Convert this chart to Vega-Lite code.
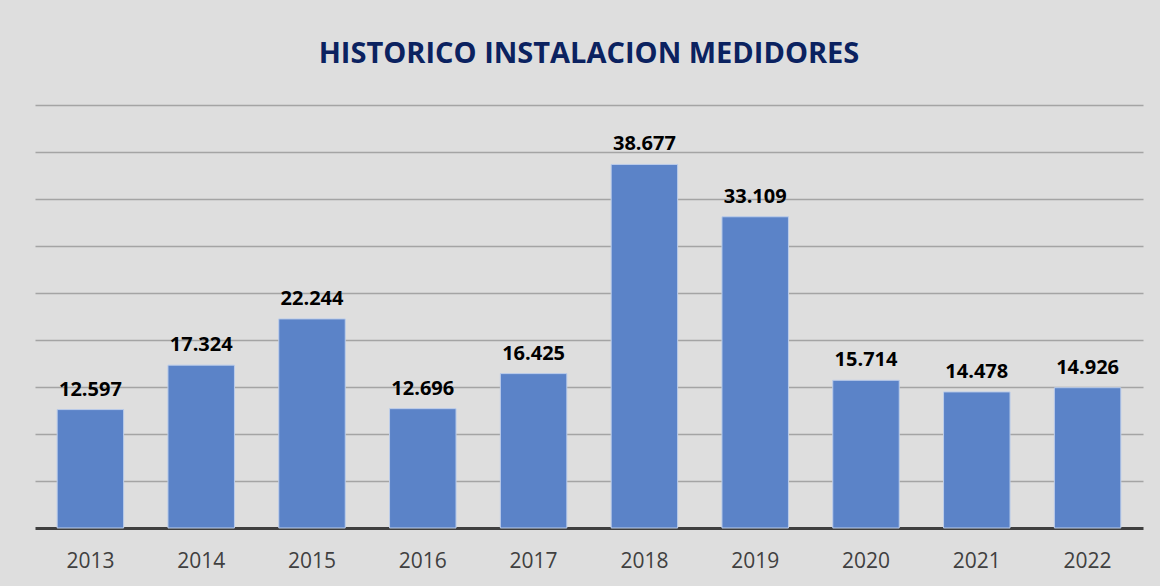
{
  "$schema": "https://vega.github.io/schema/vega-lite/v6.json",
  "width": 1108,
  "height": 423,
  "autosize": {"type": "none"},
  "padding": {"left": 35, "top": 105, "right": 17, "bottom": 58},
  "background": "#dedede",
  "title": {
    "text": "HISTORICO INSTALACION MEDIDORES",
    "font": "Open Sans",
    "fontSize": 29,
    "fontWeight": "bold",
    "color": "#0b2260",
    "anchor": "middle",
    "offset": 7,
    "baseline": "bottom"
  },
  "config": {
    "view": {"stroke": null},
    "locale": {"number": {"decimal": ",", "thousands": ".", "grouping": [3], "currency": ["", ""]}}
  },
  "data": {
    "values": [
      {"year": "2013", "value": 12597},
      {"year": "2014", "value": 17324},
      {"year": "2015", "value": 22244},
      {"year": "2016", "value": 12696},
      {"year": "2017", "value": 16425},
      {"year": "2018", "value": 38677},
      {"year": "2019", "value": 33109},
      {"year": "2020", "value": 15714},
      {"year": "2021", "value": 14478},
      {"year": "2022", "value": 14926}
    ]
  },
  "encoding": {
    "x": {
      "field": "year",
      "type": "nominal",
      "sort": null,
      "scale": {"paddingInner": 0.4, "paddingOuter": 0.2},
      "axis": {
        "title": null,
        "labelAngle": 0,
        "labelFont": "Open Sans",
        "labelFontSize": 21,
        "labelColor": "#404040",
        "labelPadding": 22,
        "ticks": false,
        "domainColor": "#3f3f3f",
        "domainWidth": 3,
        "grid": false
      }
    },
    "y": {
      "field": "value",
      "type": "quantitative",
      "scale": {"domain": [0, 45000], "nice": false},
      "axis": {
        "title": null,
        "labels": false,
        "ticks": false,
        "domain": false,
        "values": [5000, 10000, 15000, 20000, 25000, 30000, 35000, 40000, 45000],
        "gridColor": "#9a9a9a",
        "gridWidth": 1.5,
        "gridOpacity": 0.85
      }
    }
  },
  "layer": [
    {
      "mark": {"type": "bar", "fill": "#5b83c8", "stroke": "#bccdea", "strokeWidth": 1}
    },
    {
      "mark": {
        "type": "text",
        "baseline": "bottom",
        "dy": -10,
        "font": "Open Sans",
        "fontSize": 20,
        "fontWeight": "bold",
        "color": "#000000"
      },
      "encoding": {
        "text": {"field": "value", "type": "quantitative", "format": ",d"}
      }
    }
  ]
}
